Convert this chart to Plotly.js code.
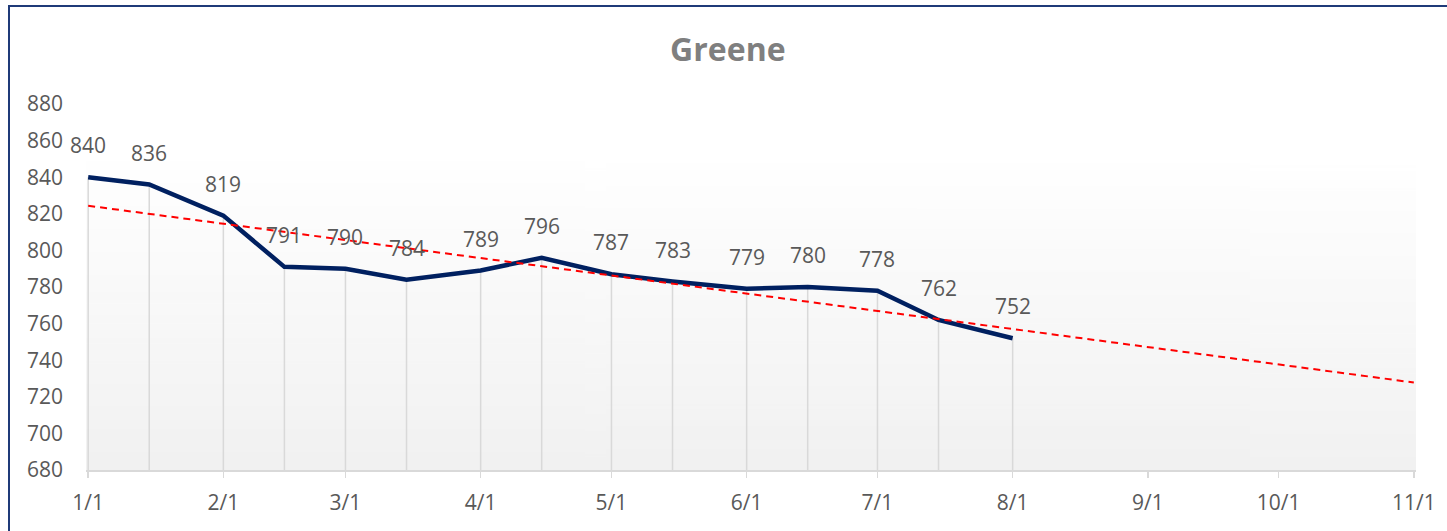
<!DOCTYPE html>
<html>
<head>
<meta charset="utf-8">
<script src="https://cdn.plot.ly/plotly-3.0.1.min.js"></script>
<style>
  html, body { margin: 0; padding: 0; background: #fff; overflow: hidden; }
  #chart { width: 1447px; height: 531px; }
  #frame { position: absolute; left: 8px; top: 5px; width: 1500px; height: 600px;
           border-left: 2px solid #1f3a78; border-top: 2px solid #1f3a78; pointer-events: none; }
</style>
</head>
<body>
<div id="chart"></div>
<div id="frame"></div>
<script>
// ---- data ----
const dates = ["2023-01-01","2023-01-15","2023-02-01","2023-02-15","2023-03-01","2023-03-15",
               "2023-04-01","2023-04-15","2023-05-01","2023-05-15","2023-06-01","2023-06-15",
               "2023-07-01","2023-07-15","2023-08-01"];
const values = [840, 836, 819, 791, 790, 784, 789, 796, 787, 783, 779, 780, 778, 762, 752];
const tickDates = ["2023-01-01","2023-02-01","2023-03-01","2023-04-01","2023-05-01","2023-06-01",
                   "2023-07-01","2023-08-01","2023-09-01","2023-10-01","2023-11-01"];
const trendEnd = "2023-11-01";
const yMin = 680, yMax = 880;

// ---- linear trendline (least squares over dates) ----
const DAY = 86400000;
const t0 = Date.parse(dates[0]);
const xs = dates.map(d => (Date.parse(d) - t0) / DAY);
const n = xs.length;
const mx = xs.reduce((a,b)=>a+b,0)/n, my = values.reduce((a,b)=>a+b,0)/n;
let sxy = 0, sxx = 0;
for (let i = 0; i < n; i++) { sxy += (xs[i]-mx)*(values[i]-my); sxx += (xs[i]-mx)**2; }
const slope = sxy/sxx, icpt = my - slope*mx;
const endX = (Date.parse(trendEnd) - t0) / DAY;
const trendX = [dates[0], trendEnd];
const trendY = [icpt, icpt + slope*endX];

// ---- gradient background image ----
const cv = document.createElement('canvas');
cv.width = 4; cv.height = 256;
const ctx = cv.getContext('2d');
const g = ctx.createLinearGradient(0,0,0,256);
g.addColorStop(0, '#ffffff');
g.addColorStop(0.15, '#ffffff');
g.addColorStop(1, '#f1f1f1');
ctx.fillStyle = g; ctx.fillRect(0,0,4,256);
const bg = cv.toDataURL();

const font = "'Open Sans', 'DejaVu Sans', sans-serif";

const traces = [
  { // drop lines
    x: dates, y: values, type: 'scatter', mode: 'markers',
    marker: {size: 0.1, opacity: 0},
    error_y: {type: 'data', symmetric: false, array: values.map(()=>0),
              arrayminus: values.map(v => v - yMin), color: '#d9d9d9', thickness: 1.5, width: 0},
    hoverinfo: 'skip', showlegend: false
  },
  { // series
    x: dates, y: values, type: 'scatter', mode: 'lines',
    line: {color: '#002060', width: 4.5}, showlegend: false
  },
  { // trend
    x: trendX, y: trendY, type: 'scatter', mode: 'lines',
    line: {color: '#ff0000', width: 2, dash: '7px,5px'}, showlegend: false
  }
];

const annotations = dates.map((d,i) => ({
  x: d, y: values[i], text: String(values[i]), showarrow: false,
  yshift: 32, font: {family: font, size: 21, color: '#595959'}
}));

const layout = {
  width: 1447, height: 531,
  margin: {l: 86, r: 31, t: 104, b: 61},
  paper_bgcolor: '#ffffff', plot_bgcolor: 'rgba(0,0,0,0)',
  title: {text: '<b>Greene</b>', x: 0.503, xanchor: 'center', y: 0.906, yanchor: 'middle',
          yref: 'container', font: {family: font, size: 32, color: '#7f7f7f'}},
  xaxis: {
    type: 'date', range: ['2022-12-31 12:00', '2023-11-01 12:00'],
    tickvals: tickDates, tickformat: '%-m/%-d',
    showgrid: false, zeroline: false, showline: true, linecolor: '#d9d9d9', linewidth: 1.5,
    ticks: 'outside', ticklen: 6, tickcolor: '#d9d9d9', tickwidth: 1.5,
    ticklabelstandoff: 7,
    tickfont: {family: font, size: 21, color: '#595959'}
  },
  yaxis: {
    range: [yMin, yMax], dtick: 20, tick0: 680,
    showgrid: false, zeroline: false, showline: false, ticks: '',
    ticklabelstandoff: 22,
    tickfont: {family: font, size: 21, color: '#595959'}
  },
  images: [{source: bg, xref: 'paper', yref: 'paper', x: 0, y: 1, sizex: 1, sizey: 1,
            sizing: 'stretch', layer: 'below', xanchor: 'left', yanchor: 'top'}],
  annotations: annotations,
  showlegend: false
};

Plotly.newPlot('chart', traces, layout, {displayModeBar: false, staticPlot: true});
</script>
</body>
</html>
